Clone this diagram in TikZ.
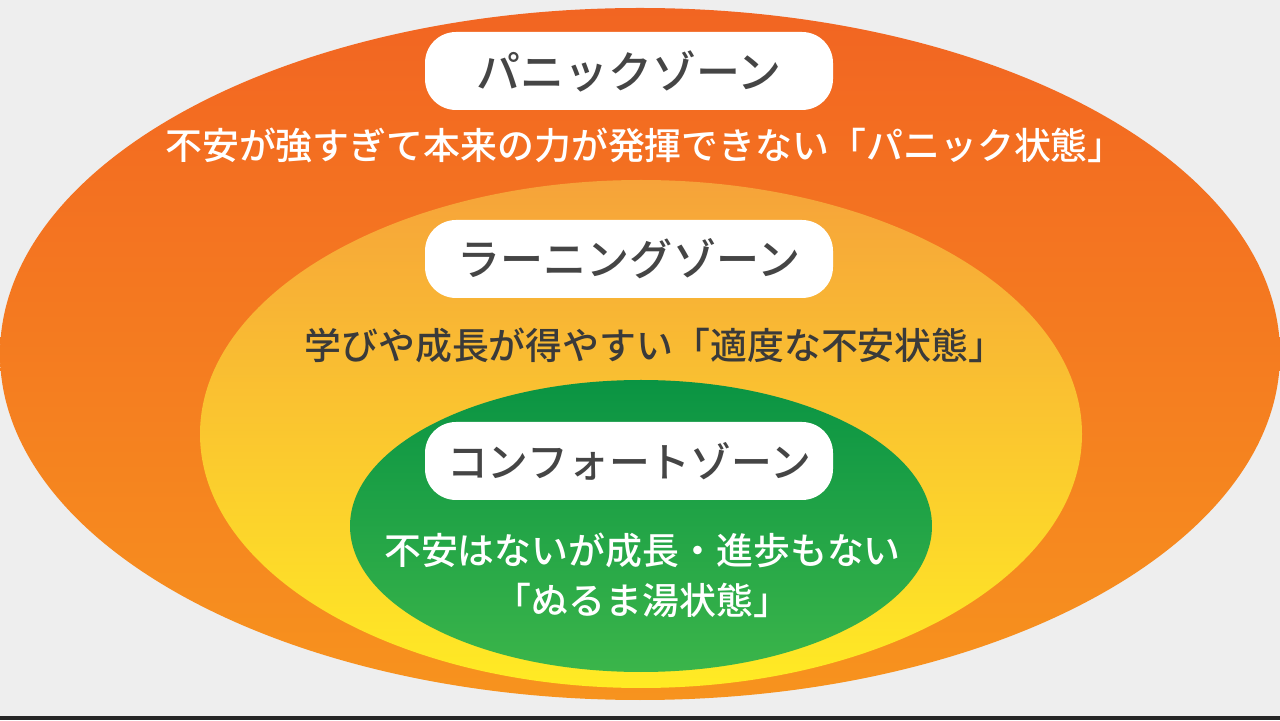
\documentclass[tikz,border=0pt]{standalone}
\usepackage{fontspec}
\setmainfont{Noto Sans CJK JP}[BoldFont={Noto Sans CJK JP Medium}]
\usetikzlibrary{shapes.geometric}

\definecolor{bgray}{HTML}{EEEEEE}
\definecolor{panictop}{HTML}{F26522}
\definecolor{panicbot}{HTML}{F7931E}
\definecolor{learntop}{HTML}{F6A33A}
\definecolor{learnbot}{HTML}{FFEB24}
\definecolor{comftop}{HTML}{0A9443}
\definecolor{comfbot}{HTML}{3BB54A}
\definecolor{titlegray}{HTML}{454545}
\definecolor{descgray}{HTML}{3A3A3A}

\begin{document}
\begin{tikzpicture}[every node/.style={outer sep=0pt},
  zone/.style={ellipse, inner sep=0pt},
  pill/.style={fill=white, rounded corners=0.62cm, minimum width=8.16cm, minimum height=1.56cm,
    text=titlegray, font=\fontsize{25}{28}\selectfont\bfseries},
  desc/.style={text=white, font=\fontsize{21}{28.5}\selectfont\bfseries, align=center}]

\fill[bgray] (0,0) rectangle (25.6,14.4);
\fill[black!85] (0,0) rectangle (25.6,0.08);

\node[zone, top color=panictop, bottom color=panicbot, minimum width=25.6cm, minimum height=13.84cm] (panic) at (12.8,7.32) {};
\node[zone, top color=learntop, bottom color=learnbot, minimum width=17.64cm, minimum height=10.16cm] (learn) at (12.82,5.72) {};
\node[zone, top color=comftop, bottom color=comfbot, minimum width=11.64cm, minimum height=5.84cm] (comf) at (12.82,3.88) {};

\node[pill] (panictitle) at (12.58,12.98) {パニックゾーン};
\node[desc] (panicdesc) at (12.9,11.5) {不安が強すぎて本来の力が発揮できない「パニック状態」};

\node[pill, font=\fontsize{24.5}{28}\selectfont\bfseries] (learntitle) at (12.58,9.22) {ラーニングゾーン};
\node[desc, text=descgray] (learndesc) at (13.1,7.5) {学びや成長が得やすい「適度な不安状態」};

\node[pill, font=\fontsize{23.2}{28}\selectfont\bfseries] (comftitle) at (12.58,5.18) {コンフォートゾーン};
\node[desc] (comfdesc) at (12.85,2.9) {不安はないが成長・進歩もない\\「ぬるま湯状態」};

\end{tikzpicture}
\end{document}
